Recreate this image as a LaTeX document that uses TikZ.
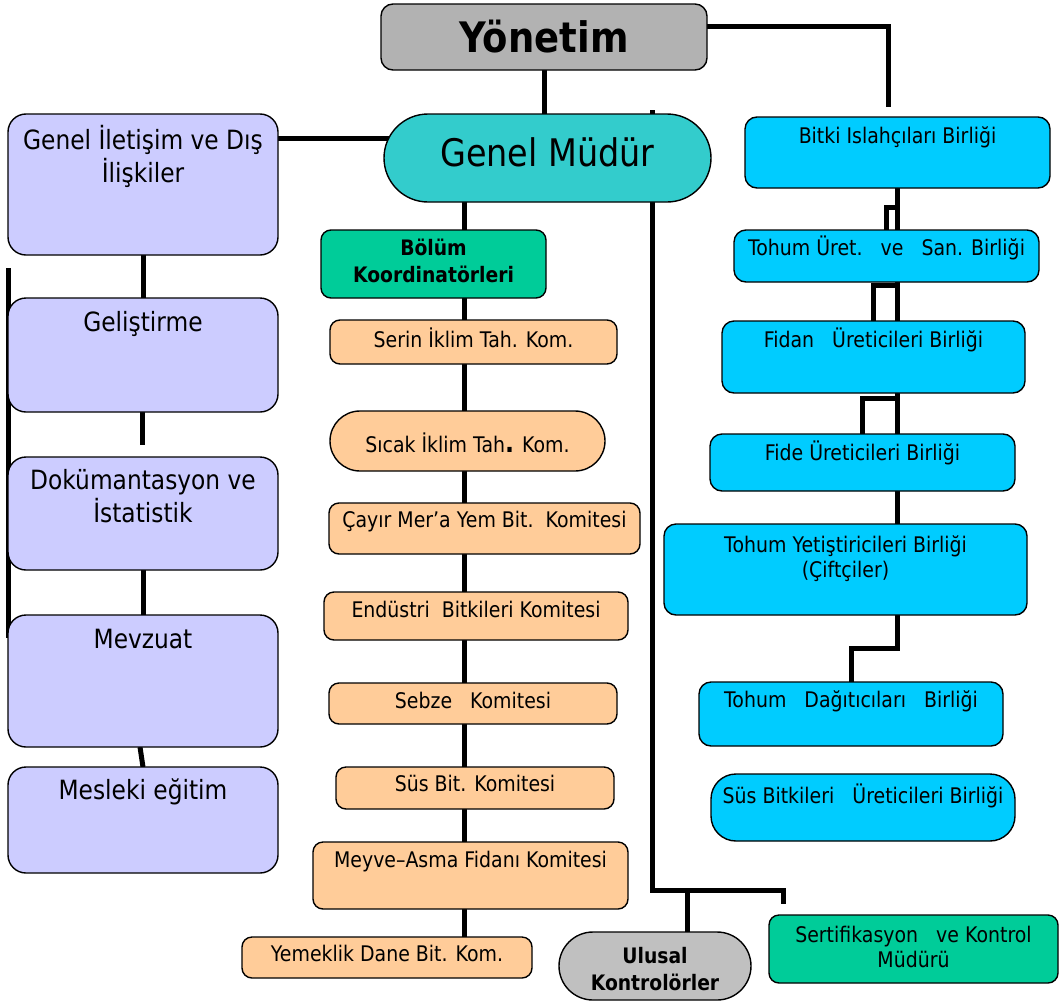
\documentclass[tikz,border=0pt]{standalone}
\usepackage{fontspec}
\setmainfont{DejaVu Sans}[FakeStretch=0.88]
\usetikzlibrary{positioning, calc, backgrounds}

\definecolor{yonetimgray}{HTML}{B2B2B2}
\definecolor{mudurteal}{HTML}{33CCCC}
\definecolor{unitlilac}{HTML}{CCCCFF}
\definecolor{koordgreen}{HTML}{00CC99}
\definecolor{komorange}{HTML}{FFCC99}
\definecolor{birlikblue}{HTML}{00CCFF}
\definecolor{ulusalgray}{HTML}{C0C0C0}

\newcommand\topfont{\fontsize{42}{48}\selectfont\bfseries}
\newcommand\mudurfont{\fontsize{38}{44}\selectfont}
\newcommand\unitfont{\fontsize{26.5}{32.5}\selectfont}
\newcommand\komfont{\fontsize{21.5}{25}\selectfont}
\newcommand\koordfont{\fontsize{21.3}{26.5}\selectfont\bfseries}

\tikzset{
  link/.style={line width=5pt},
  box/.style={draw, line width=1.4pt, anchor=north west, inner sep=0pt, outer sep=0pt},
  unitbox/.style={box, fill=unitlilac, rounded corners=18pt},
  kombox/.style={box, fill=komorange, rounded corners=10pt},
  birlikbox/.style={box, fill=birlikblue, rounded corners=12pt},
  koordbox/.style={box, fill=koordgreen, rounded corners=10pt},
  intext/.style={anchor=base, align=center, inner sep=0pt, font=\komfont},
  unittext/.style={intext, font=\unitfont},
  koordtext/.style={intext, font=\koordfont},
}

\begin{document}
\begin{tikzpicture}[x=1pt, y=-1pt]
\useasboundingbox (0,0) rectangle (1059,1001);

% top
\node[box, fill=yonetimgray, rounded corners=12pt, minimum width=326pt, minimum height=66pt,
      label={[intext, font=\topfont, yshift=-48pt]north:Yönetim}] (yonetim) at (381,4) {};
\node[box, fill=mudurteal, rounded corners=44pt, minimum width=327pt, minimum height=88pt,
      label={[intext, font=\mudurfont, yshift=-52pt]north:Genel Müdür}] (mudur) at (384,114) {};

% left column
\node[unitbox, minimum width=270pt, minimum height=141pt,
      label={[unittext, yshift=-68pt]north:Genel İletişim ve Dış\\İlişkiler}] (iletisim) at (8,114) {};
\node[unitbox, minimum width=270pt, minimum height=114pt,
      label={[unittext, yshift=-33pt]north:Geliştirme}] (gelis) at (8,298) {};
\node[unitbox, minimum width=270pt, minimum height=113pt,
      label={[unittext, yshift=-65pt]north:Dokümantasyon ve\\İstatistik}] (dokum) at (8,457) {};
\node[unitbox, minimum width=270pt, minimum height=132pt,
      label={[unittext, yshift=-33pt]north:Mevzuat}] (mevzuat) at (8,615) {};
\node[unitbox, minimum width=270pt, minimum height=106pt,
      label={[unittext, yshift=-32pt]north:Mesleki eğitim}] (mesleki) at (8,767) {};

% middle column
\node[koordbox, minimum width=225pt, minimum height=68pt,
      label={[koordtext, yshift=-52pt]north:Bölüm\\Koordinatörleri}] (bolum) at (321,230) {};
\node[kombox, minimum width=287pt, minimum height=44pt,
      label={[intext, yshift=-27pt]north:Serin İklim Tah. Kom.}] (serin) at (330,320) {};
\node[kombox, rounded corners=30pt, minimum width=275pt, minimum height=60pt,
      label={[intext, yshift=-41pt]north:Sıcak İklim Tah{\bfseries\fontsize{27}{27}\selectfont .} Kom.}] (sicak) at (330,411) {};
\node[kombox, minimum width=311pt, minimum height=51pt,
      label={[intext, yshift=-24pt]north:Çayır Mer’a Yem Bit.~~Komitesi}] (cayir) at (329,503) {};
\node[kombox, minimum width=304pt, minimum height=48pt,
      label={[intext, yshift=-25pt]north:Endüstri~~Bitkileri Komitesi}] (endustri) at (324,592) {};
\node[kombox, minimum width=288pt, minimum height=41pt,
      label={[intext, yshift=-25pt]north:Sebze~~~Komitesi}] (sebze) at (329,683) {};
\node[kombox, minimum width=278pt, minimum height=42pt,
      label={[intext, yshift=-24pt]north:Süs Bit. Komitesi}] (susbit) at (336,767) {};
\node[kombox, minimum width=315pt, minimum height=67pt,
      label={[intext, yshift=-25pt]north:Meyve–Asma Fidanı Komitesi}] (meyve) at (313,842) {};
\node[kombox, minimum width=290pt, minimum height=41pt,
      label={[intext, yshift=-24pt]north:Yemeklik Dane Bit. Kom.}] (yemeklik) at (242,937) {};

% right column
\node[birlikbox, minimum width=305pt, minimum height=71pt,
      label={[intext, yshift=-26pt]north:Bitki Islahçıları Birliği}] (islah) at (745,117) {};
\node[birlikbox, minimum width=305pt, minimum height=52pt,
      label={[intext, yshift=-25pt]north:Tohum Üret.~~~ve~~~San. Birliği}] (uret) at (734,230) {};
\node[birlikbox, minimum width=303pt, minimum height=72pt,
      label={[intext, yshift=-26pt]north:Fidan~~~Üreticileri Birliği}] (fidan) at (722,321) {};
\node[birlikbox, minimum width=305pt, minimum height=57pt,
      label={[intext, yshift=-26pt]north:Fide Üreticileri Birliği}] (fide) at (710,434) {};
\node[birlikbox, minimum width=363pt, minimum height=91pt,
      label={[intext, yshift=-53pt]north:Tohum Yetiştiricileri Birliği\\(Çiftçiler)}] (tohumyet) at (664,524) {};
\node[birlikbox, minimum width=304pt, minimum height=64pt,
      label={[intext, yshift=-25pt]north:Tohum~~~Dağıtıcıları~~~Birliği}] (dagitici) at (699,682) {};
\node[birlikbox, rounded corners=25pt, minimum width=304pt, minimum height=67pt,
      label={[intext, yshift=-29pt]north:Süs Bitkileri~~~Üreticileri Birliği}] (susbitkileri) at (711,774) {};

% bottom
\node[box, fill=ulusalgray, rounded corners=34pt, minimum width=192pt, minimum height=68pt,
      label={[koordtext, yshift=-58pt]north:Ulusal\\Kontrolörler}] (ulusal) at (559,932) {};
\node[koordbox, minimum width=289pt, minimum height=68pt,
      label={[intext, yshift=-52pt]north:Sertifikasyon~~~ve Kontrol\\Müdürü}] (sertifika) at (769,915) {};

% free ends of connectors
\coordinate (gelisstub) at (142,445);
\coordinate (lefttop) at (8,268);
\coordinate (leftbot) at (8,638);
\coordinate (midline) at (464,0);
\coordinate (rightline) at (652,110);
\coordinate (rightcorner) at (652,890);
\coordinate (tickcorner) at (783,890);
\coordinate (tickend) at (783,904);
\coordinate (ulusaltap) at (687,890);

\begin{scope}[on background layer]
  \draw[link] (yonetim.south) -- (yonetim.south |- mudur.north);
  \draw[link] ($(yonetim.east)+(0,-11)$) -| ($(islah.north)+(-9,-10)$);
  \draw[link] ($(iletisim.north east)+(0,24)$) -- ($(mudur.west)+(20,-20)$);
  % left column
  \draw[link] (iletisim) -- (gelis);
  \draw[link] (gelis.south -| gelisstub) -- (gelisstub);
  \draw[link] (dokum) -- (mevzuat);
  \draw[link] ($(mevzuat.south)+(-3,0)$) -- (mesleki.north);
  \draw[link] (lefttop) -- (leftbot);
  % middle column
  \draw[link] (mudur.south -| midline) -- (yemeklik.north -| midline);
  % control line
  \draw[link] (rightline) -- (rightcorner) -- (tickcorner) -- (tickend);
  \draw[link] (ulusaltap) -- (ulusaltap |- ulusal.north);
  % right column
  \draw[link] (islah.south) -- (islah.south |- uret.north);
  \draw[link] ($(islah.south)+(0,19)$) -| (uret.north);
  \draw[link] (uret.south -| islah.south) -- (fidan.north -| islah.south);
  \draw[link] (fidan.north) -- ++(0,-36) -| (fidan.north -| islah.south);
  \draw[link] (fidan.south -| islah.south) -- (fide.north -| islah.south);
  \draw[link] (fide.north) -- ++(0,-36) -| (fide.north -| islah.south);
  \draw[link] (fide.south -| islah.south) -- (tohumyet.north -| islah.south);
  \draw[link] (tohumyet.south -| islah.south) -- ++(0,33) -| (dagitici.north);
\end{scope}
\end{tikzpicture}
\end{document}
